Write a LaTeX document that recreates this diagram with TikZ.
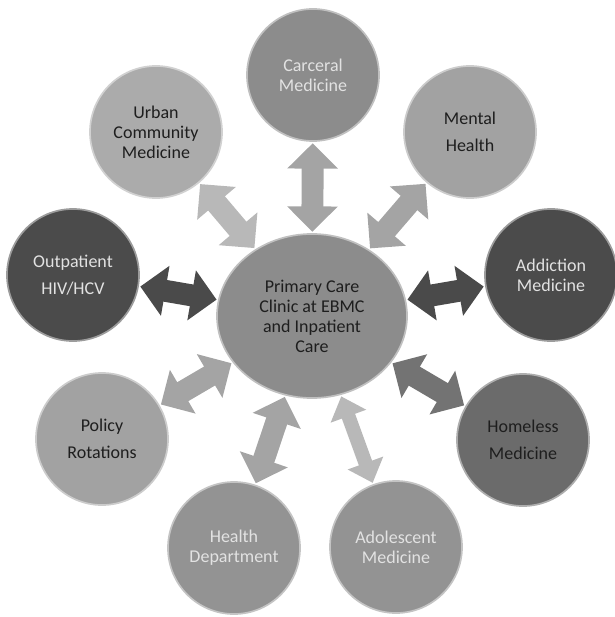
\documentclass[tikz,border=0pt]{standalone}
\usepackage{fontspec}
\setmainfont{Carlito}
\usetikzlibrary{arrows.meta,shapes.geometric}

% fills of the bubbles
\definecolor{hubfill}{HTML}{8C8C8C}
\definecolor{paledisc}{HTML}{ABABAB}
\definecolor{middisc}{HTML}{A2A2A2}
\definecolor{greydisc}{HTML}{939393}
\definecolor{darkdisc}{HTML}{4B4B4B}
\definecolor{slatedisc}{HTML}{6B6B6B}
% text
\definecolor{inkdark}{HTML}{1E1E1E}
\definecolor{inklight}{HTML}{E2E2E2}
% arrows
\definecolor{palearrow}{HTML}{B8B8B8}
\definecolor{midarrow}{HTML}{A4A4A4}
\definecolor{darkarrow}{HTML}{4A4A4A}
\definecolor{slatearrow}{HTML}{737373}

\tikzset{
	rim/.style={fill=#1, draw=#1!55!white}
}

\begin{document}
\begin{tikzpicture}[x=0.025cm,y=-0.025cm]
			\useasboundingbox (0,0) rectangle (614,617);

			\begin{scope}[every node/.style={circle,minimum size=3.3cm,inner sep=0pt,align=center,line width=1.2pt,font=\fontsize{12.8}{14.2}\selectfont}]
				\node [ellipse,minimum width=4.75cm,minimum height=4.1cm,rim=hubfill,text=inkdark] (PC) at (312,316) {Primary Care\\Clinic at EBMC\\and Inpatient\\Care};
				\node [rim=hubfill,text=inklight] (CM) at (313,75) {Carceral\\Medicine};
				\node [rim=paledisc,text=inkdark] (UC) at (156,132) {Urban\\Community\\Medicine};
				\node [rim=middisc,text=inkdark,font=\fontsize{12.8}{19.2}\selectfont] (MH) at (470,132) {Mental\\Health};
				\node [rim=darkdisc,text=inklight,font=\fontsize{12.8}{19.2}\selectfont] (OH) at (73,275) {Outpatient\\HIV/HCV};
				\node [rim=darkdisc,text=inklight] (AM) at (551,275) {Addiction\\Medicine};
				\node [rim=middisc,text=inkdark,font=\fontsize{12.8}{19.2}\selectfont] (PR) at (102,439) {Policy\\Rotations};
				\node [rim=slatedisc,text=inkdark,font=\fontsize{12.8}{19.2}\selectfont] (HM) at (523,440) {Homeless\\Medicine};
				\node [rim=greydisc,text=inklight] (HD) at (234,548) {Health\\Department};
				\node [rim=greydisc,text=inklight] (AD) at (396,547) {Adolescent\\Medicine};
			\end{scope}

			\begin{scope}[every edge/.style={draw,line width=15.6pt},>={Triangle[width=35pt,length=18pt]},shorten <=1pt,shorten >=1pt]
				\path [<->] (PC) edge [draw=midarrow] (CM);
				\path [<->] (PC) edge [draw=palearrow] (UC);
				\path [<->] (PC) edge [draw=midarrow] (MH);
				\path [<->] (PC) edge [draw=darkarrow] (OH);
				\path [<->] (PC) edge [draw=darkarrow] (AM);
				\path [<->] (PC) edge [draw=midarrow] (PR);
				\path [<->] (PC) edge [draw=slatearrow] (HM);
				\path [<->] (PC) edge [draw=midarrow] (HD);
			\end{scope}

			% the thinner one
			\begin{scope}[every edge/.style={draw,line width=10pt},>={Triangle[width=26pt,length=15pt]},shorten <=1pt,shorten >=1pt]
				\path [<->] (PC) edge [draw=palearrow] (AD);
			\end{scope}
		\end{tikzpicture}
\end{document}
